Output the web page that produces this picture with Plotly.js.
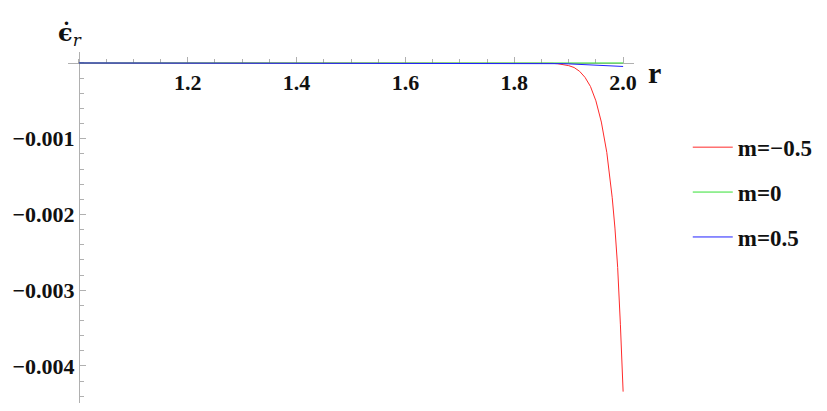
<!DOCTYPE html>
<html>
<head>
<meta charset="utf-8">
<script src="https://cdn.plot.ly/plotly-3.0.1.min.js"></script>
<style>html,body{margin:0;padding:0;background:#fff;}#chart{width:827px;height:411px;}</style>
</head>
<body>
<div id="chart"></div>
<script>
var r = [1.0, 1.2, 1.4, 1.6, 1.8, 1.84, 1.86, 1.87, 1.88, 1.89, 1.90, 1.91, 1.92, 1.93, 1.94, 1.95, 1.96, 1.97, 1.975, 1.98, 1.985, 1.99, 1.995, 2.0];
var epsMinus05 = [0, 0, 0, 0, 0, 0, -0.000002, -0.000005, -0.00001, -0.00002, -0.000035, -0.00006, -0.00011, -0.00019, -0.00031, -0.0005, -0.00078, -0.00118, -0.00145, -0.00178, -0.00218, -0.0027, -0.00345, -0.00434];
var eps0 = [0, 0, 0, 0, 0, 0, 0, 0, 0, 0, 0, 0, 0, 0, 0, 0, 0, 0, 0, 0, 0, 0, 0, 0];
var eps05 = [0, 0, 0, 0, 0, 0, -0.000003, -0.000005, -0.000007, -0.000009, -0.000012, -0.000015, -0.000018, -0.000021, -0.000024, -0.000027, -0.00003, -0.000034, -0.000036, -0.000038, -0.00004, -0.000042, -0.000044, -0.000046];
var seriesNames = ['m=\u22120.5', 'm=0', 'm=0.5'];
var xTickVals = [1.2, 1.4, 1.6, 1.8, 2.0];
var xTickText = ['1.2', '1.4', '1.6', '1.8', '2.0'];
var yTickVals = [-0.001, -0.002, -0.003, -0.004];
var yTickText = ['\u22120.001', '\u22120.002', '\u22120.003', '\u22120.004'];

var colors = ['#ff2a2a', '#33e033', '#2020ff'];
var ys = [epsMinus05, eps0, eps05];
var traces = ys.map(function (y, i) {
  return {
    x: r, y: y, type: 'scatter', mode: 'lines', name: '<b>' + seriesNames[i] + '</b>',
    legendgroup: 'g' + i,
    line: {color: colors[i], width: 1}
  };
});

var axisColor = '#b0b0b0';
var tickFont = {family: 'Liberation Serif', size: 22, color: '#111'};
var layout = {
  width: 827, height: 411,
  margin: {l: 68, r: 193, t: 52, b: 8},
  paper_bgcolor: '#fff', plot_bgcolor: '#fff',
  showlegend: true,
  legend: {
    x: 1.095, y: 0.79, xanchor: 'left', yanchor: 'top',
    font: {family: 'Liberation Serif', size: 23, color: '#111'},
    tracegroupgap: 12, itemwidth: 40, bgcolor: 'rgba(0,0,0,0)'
  },
  xaxis: {
    range: [0.98, 2.02], anchor: 'free', position: 0.9687,
    showgrid: false, zeroline: false, showline: true, linecolor: axisColor, linewidth: 1,
    ticks: 'inside', ticklen: 6, tickcolor: axisColor, tickwidth: 1,
    tickvals: xTickVals, ticktext: xTickText.map(function (t) { return '<b>' + t + '</b>'; }),
    tickfont: tickFont,
    minor: {dtick: 0.05, tick0: 1.0, ticks: 'inside', ticklen: 4, tickcolor: axisColor, showgrid: false},
    layer: 'below traces'
  },
  yaxis: {
    range: [-0.00449, 0.000145], anchor: 'free', position: 0.01943,
    showgrid: false, zeroline: false, showline: true, linecolor: axisColor, linewidth: 1,
    ticks: 'inside', ticklen: 6, tickcolor: axisColor, tickwidth: 1,
    tickvals: yTickVals, ticktext: yTickText.map(function (t) { return '<b>' + t + '</b>'; }),
    tickfont: tickFont,
    minor: {dtick: 0.0002, tick0: 0, ticks: 'inside', ticklen: 4, tickcolor: axisColor, showgrid: false},
    layer: 'below traces'
  },
  annotations: [
    {xref: 'paper', yref: 'paper', x: 1.021, y: 0.943, xanchor: 'left', yanchor: 'middle', showarrow: false,
     text: '<b>r</b>', font: {family: 'Liberation Serif', size: 30, color: '#111'}},
    {xref: 'paper', yref: 'paper', x: -0.022, y: 1.0, xanchor: 'left', yanchor: 'bottom', showarrow: false,
     text: '<b>\u03f5\u0307</b><i><sub>r</sub></i>', font: {family: 'DejaVu Serif', size: 24, color: '#111'}}
  ]
};

Plotly.newPlot('chart', traces, layout, {displayModeBar: false, staticPlot: true});
</script>
</body>
</html>
